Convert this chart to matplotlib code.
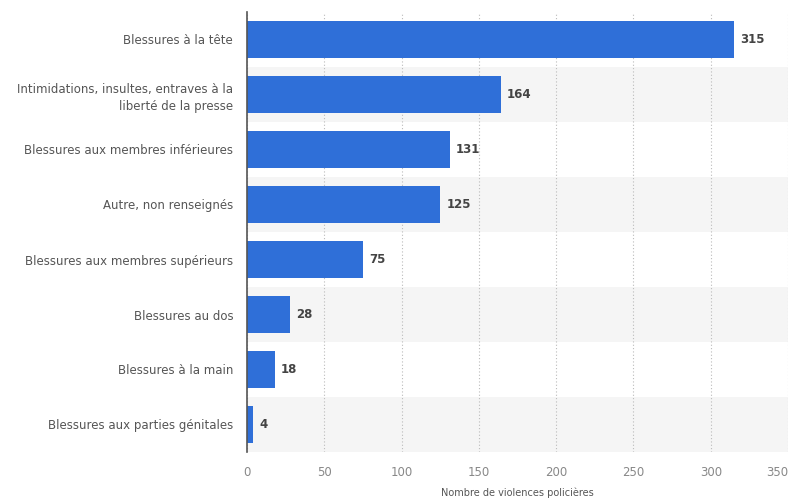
import matplotlib
matplotlib.use("Agg")
import matplotlib.pyplot as plt

categories = [
    "Blessures à la tête",
    "Intimidations, insultes, entraves à la\nliberté de la presse",
    "Blessures aux membres inférieures",
    "Autre, non renseignés",
    "Blessures aux membres supérieurs",
    "Blessures au dos",
    "Blessures à la main",
    "Blessures aux parties génitales",
]
values = [315, 164, 131, 125, 75, 28, 18, 4]
xticks = [0, 50, 100, 150, 200, 250, 300, 350]
xlabel = "Nombre de violences policières"

plt.rcParams['font.family'] = ['DejaVu Sans']
text_col = "#555555"
bar_col = "#2f6fd8"

fig = plt.figure(figsize=(7.92, 5), dpi=100)
ax = fig.add_axes([0.312, 0.096, 0.683, 0.88])

n = len(categories)
ypos = list(range(n))

# striped rows
for i in ypos:
    if i % 2 == 1:
        ax.axhspan(i - 0.5, i + 0.5, color="#f5f5f5", zorder=0, lw=0)

ax.barh(ypos, values, height=0.69, color=bar_col, zorder=3)
for y, v in zip(ypos, values):
    ax.text(v + 4, y, str(v), va="center", ha="left", fontsize=8.5,
            fontweight="bold", color="#444444", zorder=4)

ax.set_xlim(0, 350)
ax.set_ylim(n - 0.5, -0.5)
ax.set_yticks(ypos)
ax.set_yticklabels(categories, fontsize=8.5, color=text_col, linespacing=1.4)
ax.set_xticks(xticks)
ax.set_xticklabels([str(t) for t in xticks], fontsize=8.5, color="#888888")
labs = ax.get_xticklabels()
labs[-1].set_horizontalalignment("right")

ax.xaxis.grid(True, linestyle=(0, (1, 2)), color="#bbbbbb", lw=0.8, zorder=1)
ax.set_axisbelow(True)
ax.tick_params(axis="x", length=0, pad=10)
ax.tick_params(axis="y", length=0, pad=10)
for s in ["top", "right", "bottom"]:
    ax.spines[s].set_visible(False)
ax.spines["left"].set_color("#555555")
ax.spines["left"].set_linewidth(1.2)
ax.spines["left"].set_zorder(5)

ax.set_xlabel(xlabel, fontsize=7, color=text_col, labelpad=6)

fig.savefig("out.png", dpi=100)
